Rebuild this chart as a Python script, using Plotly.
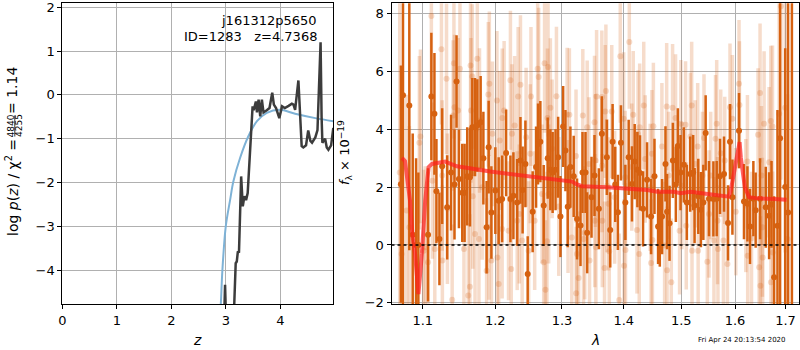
import plotly.graph_objects as go

# ---------------- redshift fit: log p(z) ----------------
z_best = 4.7368
obj_name = "j161312p5650"
obj_id = 1283
chi2_num, chi2_den = 4840, 4255

z_pz = [2.96, 2.985, 3.01, 3.10, 3.15, 3.18, 3.20, 3.22, 3.24, 3.28, 3.31, 3.34, 3.37, 3.40,
        3.49, 3.51, 3.55, 3.57, 3.60, 3.63, 3.66, 3.69, 3.75, 3.80, 3.85, 3.88, 3.92, 3.98,
        4.03, 4.08, 4.15, 4.21, 4.24, 4.27, 4.33, 4.39, 4.42, 4.47, 4.51, 4.55, 4.58, 4.64,
        4.68, z_best, 4.755, 4.77, 4.82, 4.85, 4.88, 4.93, 4.97]
logp_pz = [-5.5, -4.33, -5.5, -6.0, -4.9, -3.84, -3.80, -3.57, -3.60, -1.86, -2.54, -2.31, -2.40, -2.24,
           -0.26, -0.35, -0.15, -0.40, -0.11, -0.49, -0.11, -0.40, -0.35, -0.30, 0.05, -0.22, -0.30, -0.53,
           -0.26, -0.30, -0.25, -0.20, -0.22, -0.34, 0.33, -1.17, -1.20, -1.15, -0.81, -1.05, -1.09, -0.97,
           -0.80, 1.20, -0.50, -1.09, -1.00, -1.20, -1.25, -1.15, -0.75]

z_prior = [2.88, 2.906, 2.936, 2.998, 3.077, 3.138, 3.26, 3.41, 3.57, 3.75, 3.99, 4.27, 4.64, 4.97]
logp_prior = [-5.2, -4.79, -4.0, -3.0, -2.4, -1.97, -1.44, -0.95, -0.60, -0.41, -0.34, -0.43, -0.53, -0.60]

# ---------------- spectrum ----------------
wave_a = [1.0715, 1.0742, 1.0824, 1.0868, 1.0912, 1.0942, 1.1070, 1.1114, 1.1155, 1.1182,
          1.1222, 1.1259, 1.1327, 1.1380, 1.1427, 1.1455, 1.1488, 1.1534, 1.1566, 1.1603,
          1.1641, 1.1674, 1.1712, 1.1744, 1.1791, 1.1830, 1.1876, 1.1905, 1.1944, 1.2001,
          1.2049, 1.2099, 1.2157, 1.2220, 1.2264, 1.2319, 1.2368, 1.2400, 1.2442, 1.2476,
          1.2551, 1.2602, 1.2632, 1.2667, 1.2718, 1.2779, 1.2820, 1.2855, 1.2900, 1.2940,
          1.2976, 1.3018, 1.3054, 1.3090, 1.3132, 1.3184, 1.3237, 1.3292, 1.3324, 1.3372,
          1.3399, 1.3469, 1.3517, 1.3588, 1.3637, 1.3719, 1.3775, 1.3814, 1.3858, 1.3902,
          1.3953, 1.4027, 1.4083, 1.4139, 1.4185, 1.4231, 1.4276, 1.4328, 1.4397, 1.4467,
          1.4526, 1.4589, 1.4619, 1.4659, 1.4719, 1.4747, 1.4791, 1.4850, 1.4903, 1.4939,
          1.4987, 1.5047, 1.5101, 1.5162, 1.5216, 1.5242, 1.5310, 1.5358, 1.5403, 1.5446,
          1.5508, 1.5590, 1.5652, 1.5714, 1.5790, 1.5866, 1.5904, 1.5950, 1.6077, 1.6173,
          1.6240, 1.6290, 1.6356, 1.6401, 1.6488, 1.6601, 1.6668, 1.6716, 1.6768, 1.6836,
          1.6889, 1.6993, 1.7052, 1.7130]
flux_a = [2.10, 5.17, 4.82, 0.35, 0.00, 0.00, 0.35, 5.13, 4.53, 1.86,
          0.21, 2.72, 1.30, 2.50, 2.09, 5.65, 2.28, 1.80, 1.80, 2.37,
          2.34, 4.07, 4.07, 4.13, 4.24, 3.00, 0.61, 3.38, 1.12, 1.88,
          1.53, 1.59, 3.18, 1.59, 1.70, 1.47, 2.92, 1.90, 2.80, -1.00,
          1.15, 2.69, 3.49, 3.57, 1.36, 3.00, 2.60, 2.50, 2.60, 3.03,
          0.98, 4.09, 3.26, 1.32, 2.69, 2.37, 0.90, 0.67, 2.50, 2.50,
          0.42, 1.65, 2.40, 1.25, 3.84, 3.03, 0.52, 3.57, 2.09, 1.13,
          3.53, 1.47, 3.03, 2.11, 2.88, 2.60, 2.49, 1.25, 2.25, 0.98,
          2.37, 0.64, 0.55, 0.98, 2.80, 1.15, 0.75, 2.92, 2.09, 3.42,
          2.50, 2.77, 1.47, 2.45, 2.50, 1.36, 1.68, 1.22, 1.47, 3.87,
          1.60, 1.59, 1.60, 2.37, 2.45, 0.76, 3.57, 1.65, 3.95, 1.50,
          1.42, 0.64, 1.60, 1.20, 1.60, 1.30, 1.01, 1.40, -1.12, 0.66,
          3.69, 2.00, 1.12, 9.00]
err_a = [4.1, 7.5, 5.0, 3.5, 3.0, 2.5, 2.3, 2.2, 2.1, 1.8,
         1.6, 2.0, 1.8, 2.0, 1.9, 1.6, 1.7, 1.7, 1.7, 1.7,
         1.7, 1.7, 1.7, 1.6, 1.6, 1.6, 1.6, 1.6, 1.6, 1.5,
         1.5, 1.5, 1.5, 1.5, 1.5, 1.5, 1.5, 1.5, 1.5, 1.3,
         1.4, 1.4, 1.4, 1.4, 1.4, 1.4, 1.4, 1.4, 1.4, 1.4,
         1.4, 1.4, 1.4, 1.4, 1.4, 1.4, 1.4, 1.4, 1.4, 1.4,
         1.4, 1.4, 1.4, 1.4, 1.3, 1.3, 1.3, 1.3, 1.3, 1.3,
         1.3, 1.3, 1.3, 1.3, 1.3, 1.3, 1.3, 1.3, 1.3, 1.3,
         1.3, 1.3, 1.3, 1.3, 1.3, 1.3, 1.3, 1.3, 1.3, 1.3,
         1.3, 1.3, 1.3, 1.3, 1.3, 1.3, 1.3, 1.3, 1.3, 1.3,
         1.3, 1.3, 1.3, 1.3, 1.3, 1.3, 1.3, 1.3, 1.3, 1.3,
         1.3, 1.3, 1.3, 1.3, 1.4, 1.4, 1.5, 1.5, 2.8, 4.0,
         6.0, 4.8, 9.0, 12.0]

wave_b = [1.0700, 1.0724, 1.0790, 1.0825, 1.0955, 1.0969, 1.1011, 1.1032, 1.1070, 1.1114,
          1.1128, 1.1160, 1.1249, 1.1259, 1.1262, 1.1318, 1.1330, 1.1395, 1.1408, 1.1419,
          1.1427, 1.1477, 1.1502, 1.1557, 1.1617, 1.1640, 1.1649, 1.1655, 1.1674, 1.1680,
          1.1712, 1.1744, 1.1767, 1.1775, 1.1813, 1.1876, 1.1900, 1.1909, 1.1915, 1.1945,
          1.1959, 1.2024, 1.2030, 1.2049, 1.2064, 1.2099, 1.2101, 1.2128, 1.2192, 1.2220,
          1.2232, 1.2243, 1.2282, 1.2320, 1.2334, 1.2351, 1.2368, 1.2393, 1.2452, 1.2490,
          1.2515, 1.2525, 1.2581, 1.2626, 1.2641, 1.2693, 1.2718, 1.2731, 1.2744, 1.2768,
          1.2776, 1.2784, 1.2794, 1.2820, 1.2847, 1.2914, 1.2950, 1.3081, 1.3095, 1.3116,
          1.3154, 1.3221, 1.3223, 1.3235, 1.3262, 1.3329, 1.3340, 1.3360, 1.3399, 1.3427,
          1.3437, 1.3517, 1.3522, 1.3533, 1.3540, 1.3551, 1.3637, 1.3640, 1.3645, 1.3681,
          1.3693, 1.3703, 1.3720, 1.3747, 1.3759, 1.3800, 1.3848, 1.3924, 1.3942, 1.3999,
          1.4005, 1.4024, 1.4030, 1.4094, 1.4136, 1.4160, 1.4224, 1.4242, 1.4263, 1.4270,
          1.4340, 1.4365, 1.4452, 1.4467, 1.4481, 1.4490, 1.4507, 1.4656, 1.4704, 1.4740,
          1.4747, 1.4775, 1.4822, 1.4845, 1.4898, 1.4970, 1.4993, 1.5011, 1.5078, 1.5091,
          1.5166, 1.5189, 1.5195, 1.5253, 1.5299, 1.5307, 1.5387, 1.5415, 1.5477, 1.5508,
          1.5540, 1.5600, 1.5630, 1.5652, 1.5668, 1.5675, 1.5728, 1.5779, 1.5804, 1.5855,
          1.5904, 1.5950, 1.6014, 1.6077, 1.6085, 1.6208, 1.6240, 1.6245, 1.6320, 1.6448,
          1.6469, 1.6488, 1.6495, 1.6516, 1.6535, 1.6540, 1.6568, 1.6668, 1.6702, 1.6705,
          1.6736, 1.6740, 1.6870, 1.6906, 1.6993, 1.7040]
flux_b = [2.50, -0.31, 1.19, 0.61, 3.53, 3.75, -0.20, -0.08, -0.60, 7.91,
          2.22, -0.14, 6.76, 2.40, -0.54, 5.74, 1.25, -1.89, 4.47, 6.28,
          4.76, 4.65, 6.09, -0.14, -1.75, -1.44, 6.20, 4.65, 5.82, 1.68,
          0.38, 6.43, 0.21, 4.30, 1.99, -0.89, 5.20, 0.61, 5.57, -0.54,
          3.84, 4.99, -0.43, -1.35, 3.61, 0.55, 4.39, 4.65, 0.49, 5.69,
          -0.83, 3.84, 4.13, 0.84, 5.13, 1.07, 5.54, 0.15, 3.72, -0.20,
          3.15, 5.13, 0.84, 6.09, 5.80, 1.76, -0.60, 6.28, -1.55, 0.13,
          4.39, 6.15, 1.76, 4.74, 3.32, 5.14, 1.33, 4.51, 1.33, 4.50,
          0.26, 3.07, -1.67, -0.31, -1.14, 4.47, 0.21, 0.42, 4.07, 2.80,
          -0.54, 4.24, 0.84, 2.92, -0.08, 5.13, 5.11, 2.74, 0.84, -0.80,
          4.61, 5.32, 2.05, 1.42, -0.22, 4.61, 1.65, -1.90, 6.52, 4.36,
          -0.72, 2.34, -0.17, 7.01, 2.69, 4.50, 0.52, 3.84, -0.31, 4.07,
          4.82, 2.97, 1.99, -0.62, 3.15, 0.17, 4.10, 3.40, -0.02, 4.78,
          -0.87, 2.40, -1.29, 4.74, 4.39, 0.49, 4.19, 2.05, 4.15, 0.66,
          3.75, 4.82, -0.20, 2.80, 3.40, -0.20, 2.40, 3.70, -0.58, 1.07,
          2.40, 0.15, 3.67, 4.19, 0.84, -0.14, 3.17, 0.15, 2.92, -0.66,
          4.76, 4.36, 1.15, 5.57, 4.84, 1.36, 2.88, -0.37, 0.23, 3.81,
          -0.77, 5.25, -1.41, 2.40, 0.61, -0.43, 4.19, 2.86, 4.28, -1.29,
          4.09, -0.26, 4.53, 8.25, 4.74, 0.21]
err_b = [7.0, 4.0, 4.0, 3.5, 3.0, 3.0, 2.8, 2.8, 2.8, 2.7,
         2.7, 2.7, 2.6, 2.6, 2.6, 2.6, 2.6, 2.6, 2.6, 2.6,
         2.5, 2.5, 2.5, 2.5, 2.5, 2.5, 2.5, 2.5, 2.5, 2.5,
         2.5, 2.5, 2.5, 2.5, 2.5, 2.5, 2.5, 2.5, 2.5, 2.5,
         2.5, 2.4, 2.4, 2.4, 2.4, 2.4, 2.4, 2.4, 2.4, 2.4,
         2.4, 2.4, 2.4, 2.4, 2.4, 2.4, 2.4, 2.4, 2.4, 2.4,
         2.4, 2.4, 2.4, 2.4, 2.4, 2.4, 2.4, 2.4, 2.4, 2.4,
         2.4, 2.4, 2.4, 2.4, 2.4, 2.4, 2.4, 2.3, 2.3, 2.3,
         2.3, 2.3, 2.3, 2.3, 2.3, 2.3, 2.3, 2.3, 2.3, 2.3,
         2.3, 2.3, 2.3, 2.3, 2.3, 2.3, 2.3, 2.3, 2.3, 2.3,
         2.3, 2.3, 2.3, 2.3, 2.3, 2.3, 2.3, 2.3, 2.3, 2.3,
         2.3, 2.3, 2.3, 2.3, 2.2, 2.2, 2.2, 2.2, 2.2, 2.2,
         2.2, 2.2, 2.2, 2.2, 2.2, 2.2, 2.2, 2.2, 2.2, 2.2,
         2.2, 2.2, 2.2, 2.2, 2.2, 2.2, 2.2, 2.2, 2.2, 2.2,
         2.2, 2.2, 2.2, 2.2, 2.2, 2.2, 2.2, 2.2, 2.2, 2.2,
         2.2, 2.2, 2.2, 2.2, 2.2, 2.2, 2.2, 2.2, 2.2, 2.2,
         2.2, 2.2, 2.2, 2.2, 2.2, 2.3, 2.3, 2.3, 2.3, 2.3,
         2.4, 2.4, 2.4, 2.4, 2.4, 2.4, 2.5, 2.6, 2.6, 2.7,
         2.8, 2.8, 4.5, 6.0, 5.0, 5.0]

wave_model = [1.0730, 1.0768, 1.0833, 1.0866, 1.0899, 1.0943, 1.0988, 1.1032, 1.1077, 1.1122,
              1.1299, 1.1460, 1.1927, 1.2415, 1.2667, 1.2925, 1.3159, 1.3227, 1.3319, 1.3724,
              1.4003, 1.4400, 1.4574, 1.4868, 1.4989, 1.5171, 1.5484, 1.5880, 1.5918, 1.5990,
              1.6034, 1.6088, 1.6111, 1.6190, 1.6273, 1.6438, 1.6768, 1.7020]
flux_model = [3.01, 2.90, 1.53, 0.30, -0.31, -1.70, -0.31, 1.53, 2.69, 2.80,
              2.88, 2.72, 2.54, 2.40, 2.30, 2.23, 2.19, 2.10, 2.03, 1.99,
              1.96, 1.90, 1.84, 1.84, 1.79, 1.84, 1.76, 1.67, 1.88, 2.60,
              3.03, 3.55, 3.03, 1.99, 1.65, 1.61, 1.59, 1.56]

lam_ticks = [1.1, 1.2, 1.3, 1.4, 1.5, 1.6, 1.7]
timestamp = "Fri Apr 24 20:13:54 2020"

W, H = 800, 350
ORANGE = "rgb(214,97,16)"
ORANGE_LIGHT = "rgba(214,97,16,0.22)"
FONT = "DejaVu Sans"


def px(x):
    return x / W


def py(y):
    return 1 - y / H


fig = go.Figure()

# left panel
fig.add_trace(go.Scatter(x=z_prior, y=logp_prior, mode="lines", line_shape="spline",
                         line=dict(color="rgb(126,178,214)", width=2), xaxis="x", yaxis="y",
                         showlegend=False))
fig.add_trace(go.Scatter(x=z_pz, y=logp_pz, mode="lines",
                         line=dict(color="rgb(60,60,60)", width=2.5), xaxis="x", yaxis="y",
                         showlegend=False))

# right panel
fig.add_trace(go.Scatter(x=wave_b, y=flux_b, mode="markers",
                         marker=dict(color=ORANGE_LIGHT, size=6),
                         error_y=dict(type="data", array=err_b, color=ORANGE_LIGHT, thickness=3.5, width=0),
                         xaxis="x2", yaxis="y2", showlegend=False))
fig.add_trace(go.Scatter(x=wave_a, y=flux_a, mode="markers",
                         marker=dict(color=ORANGE, size=6),
                         error_y=dict(type="data", array=err_a, color=ORANGE, thickness=2.5, width=0),
                         xaxis="x2", yaxis="y2", showlegend=False))
fig.add_trace(go.Scatter(x=wave_model, y=flux_model, mode="lines",
                         line=dict(color="rgba(255,30,30,0.7)", width=4),
                         xaxis="x2", yaxis="y2", showlegend=False))

axis_common = dict(showline=True, linecolor="black", linewidth=1, mirror=True,
                   ticks="outside", ticklen=4, tickcolor="black", tickwidth=1,
                   showgrid=True, gridcolor="#b0b0b0", gridwidth=0.8, zeroline=False,
                   automargin=False, ticklabeloverflow="allow",
                   tickfont=dict(family=FONT, size=13, color="black"))

fig.update_layout(
    template="none",
    width=W, height=H, margin=dict(l=0, r=0, t=0, b=0, pad=0, autoexpand=False),
    paper_bgcolor="white", plot_bgcolor="white",
    xaxis=dict(domain=[px(62.3), px(333.3)], range=[0, 4.97], tickvals=[0, 1, 2, 3, 4],
               anchor="y", **axis_common),
    yaxis=dict(domain=[py(304), py(3.3)], range=[-4.77, 2.09], tickvals=[-4, -3, -2, -1, 0, 1, 2],
               anchor="x", **axis_common),
    xaxis2=dict(domain=[px(391.5), px(798.7)], type="log", range=[0.0251, 0.2373],
                tickvals=lam_ticks, ticktext=[str(t) for t in lam_ticks], anchor="y2", **axis_common),
    yaxis2=dict(domain=[py(304), py(3.3)], range=[-2.04, 8.35], tickvals=[-2, 0, 2, 4, 6, 8],
                anchor="x2", **axis_common),
)

# zero level
fig.add_shape(type="line", xref="x2 domain", yref="y2", x0=0, x1=1, y0=0, y1=0,
              line=dict(color="black", width=1.6, dash="dot"))

ann = []
txt = dict(family=FONT, size=13, color="black")
ann.append(dict(x=px(319), y=py(20.5), text=obj_name, xanchor="right", yanchor="middle"))
ann.append(dict(x=px(319), y=py(36), xanchor="right", yanchor="middle",
                text=f"ID={obj_id}\u00a0\u00a0\u00a0z={z_best:.4f}"))
# axis titles
ann.append(dict(x=px(197), y=py(340), text="<i>z</i>", xanchor="center", yanchor="middle",
                font=dict(family=FONT, size=14, color="black")))
ann.append(dict(x=px(595), y=py(340), text="<i>λ</i>", xanchor="center", yanchor="middle",
                font=dict(family=FONT, size=14, color="black")))
ann.append(dict(x=px(345), y=py(153), text="<i>f</i><sub>λ</sub> × 10<sup>−19</sup>", textangle=-90,
                xanchor="center", yanchor="middle", font=dict(family=FONT, size=13, color="black")))
# left y title, with a stacked fraction for chi2
ann.append(dict(x=px(12), y=py(188), text="log <i>p</i>(<i>z</i>) / χ<sup>2</sup> =", textangle=-90,
                xanchor="center", yanchor="middle", font=dict(family=FONT, size=14, color="black")))
ann.append(dict(x=px(10.5), y=py(126), text=str(chi2_num), textangle=-90,
                xanchor="center", yanchor="middle", font=dict(family=FONT, size=9, color="black")))
ann.append(dict(x=px(19), y=py(126), text=str(chi2_den), textangle=-90,
                xanchor="center", yanchor="middle", font=dict(family=FONT, size=9, color="black")))
ann.append(dict(x=px(12), y=py(91), text=f"= {chi2_num / chi2_den:.2f}", textangle=-90,
                xanchor="center", yanchor="middle", font=dict(family=FONT, size=14, color="black")))
ann.append(dict(x=px(788), y=py(340), text=timestamp, xanchor="right", yanchor="middle",
                font=dict(family=FONT, size=7, color="black")))

for a in ann:
    a.setdefault("font", txt)
    a.update(xref="paper", yref="paper", showarrow=False)
fig.update_layout(annotations=ann)

fig.add_shape(type="line", xref="paper", yref="paper", x0=px(14.8), x1=px(14.8), y0=py(115.5), y1=py(136.5),
              line=dict(color="black", width=0.8))

fig.write_html("out.html")
